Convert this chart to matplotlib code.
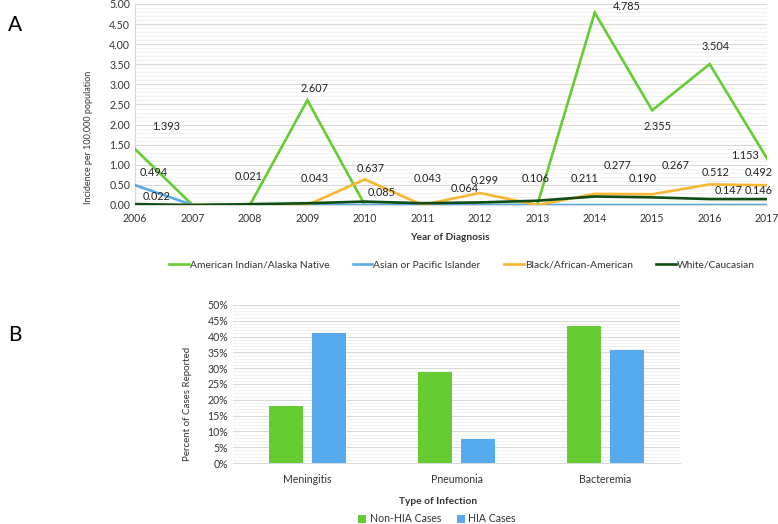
import matplotlib.pyplot as plt
from matplotlib.ticker import MultipleLocator, PercentFormatter

plt.rcParams["font.family"] = ["Lato", "DejaVu Sans"]

# Panel A data
years = list(range(2006, 2018))
ai_an = [1.393, 0, 0, 2.607, 0, 0, 0, 0, 4.785, 2.355, 3.504, 1.153]
asian_pi = [0.494, 0, 0, 0, 0, 0, 0, 0, 0, 0, 0, 0]
black = [0, 0, 0, 0, 0.637, 0, 0.299, 0, 0.277, 0.267, 0.512, 0.492]
white = [0.022, 0, 0.021, 0.043, 0.085, 0.043, 0.064, 0.106, 0.211, 0.190, 0.147, 0.146]

series_names = ["American Indian/Alaska Native", "Asian or Pacific Islander",
                "Black/African-American", "White/Caucasian"]
series_colors = ["#66cc33", "#5aaae6", "#f9b731", "#0f4d12"]

# where the data labels sit (moved by hand in the original)
label_pos = {
    0: {2006: (2006.54, 1.94), 2009: (2009.12, 2.91), 2014: (2014.56, 4.93),
        2015: (2015.1, 1.94), 2016: (2016.1, 3.93), 2017: (2016.62, 1.22)},
    1: {2006: (2006.33, 0.80)},
    2: {2010: (2010.1, 0.92), 2012: (2012.09, 0.62), 2014: (2014.39, 0.97),
        2015: (2015.4, 0.97), 2016: (2016.11, 0.80), 2017: (2016.85, 0.80)},
    3: {2006: (2006.38, 0.22), 2008: (2007.98, 0.70), 2009: (2009.12, 0.67),
        2010: (2010.3, 0.30), 2011: (2011.1, 0.67), 2012: (2011.74, 0.42),
        2013: (2012.98, 0.67), 2014: (2013.82, 0.67), 2015: (2014.83, 0.67),
        2016: (2016.33, 0.35), 2017: (2016.85, 0.35)},
}

# Panel B data
infections = ["Meningitis", "Pneumonia", "Bacteremia"]
non_hia = [18.0, 28.7, 43.4]
hia = [41.0, 7.7, 35.9]

txt = "#333333"
fig = plt.figure(figsize=(7.78, 5.24), dpi=100)

# ---- Panel A
ax = fig.add_axes([0.1735, 0.6088, 0.8125, 0.3836])
all_series = [ai_an, asian_pi, black, white]
for i, vals in enumerate(all_series):
    ax.plot(years, vals, color=series_colors[i], lw=1.9, label=series_names[i],
            solid_joinstyle="miter", zorder=3 + i)
    for yr, (tx, ty) in label_pos[i].items():
        v = vals[years.index(yr)]
        ax.text(tx, ty, f"{v:.3f}", fontsize=7.8, ha="center", va="center",
                color="#222222", clip_on=False, zorder=10)

ax.set_xlim(2006, 2017)
ax.set_ylim(0, 5)
ax.set_xticks(years)
ax.yaxis.set_major_locator(MultipleLocator(0.5))
ax.yaxis.set_minor_locator(MultipleLocator(0.1))
ax.yaxis.set_major_formatter(lambda v, p: f"{v:.2f}")
ax.grid(axis="y", which="major", color="#d9d9d9", lw=0.8)
ax.grid(axis="y", which="minor", color="#efefef", lw=0.6)
ax.set_axisbelow(True)
ax.tick_params(axis="both", which="both", length=0, labelsize=7.6, colors=txt)
ax.tick_params(axis="x", pad=6)
for s in ["top", "right"]:
    ax.spines[s].set_visible(False)
ax.spines["left"].set_color("#d9d9d9")
ax.spines["bottom"].set_color("#d9d9d9")
ax.set_ylabel("Incidence per 100,000 population", fontsize=6.5, color=txt)
ax.yaxis.set_label_coords(-0.066, 0.338)

fig.text(450 / 778, 1 - 237 / 524, "Year of Diagnosis", fontsize=7.3,
         fontweight="bold", ha="center", va="center", color=txt)
fig.text(8 / 778, 1 - 25 / 524, "A", fontsize=15, ha="left", va="center")
fig.legend(*ax.get_legend_handles_labels(), loc="center",
           bbox_to_anchor=(462 / 778, 1 - 265 / 524), ncol=4, frameon=False,
           fontsize=7.4, handlelength=1.9, handletextpad=0.1, columnspacing=2.3,
           labelcolor=txt)

# ---- Panel B
bx = fig.add_axes([0.2995, 0.1164, 0.5745, 0.3016])
pos = list(range(len(infections)))
w = 0.228
bx.bar([p - 0.145 for p in pos], non_hia, w, color="#66cc33", label="Non-HIA Cases", zorder=3)
bx.bar([p + 0.145 for p in pos], hia, w, color="#57aaee", label="HIA Cases", zorder=3)
bx.set_xlim(-0.5, 2.5)
bx.set_ylim(0, 50)
bx.set_xticks(pos)
bx.set_xticklabels(infections)
bx.yaxis.set_major_locator(MultipleLocator(5))
bx.yaxis.set_minor_locator(MultipleLocator(1))
bx.yaxis.set_major_formatter(PercentFormatter(decimals=0))
bx.grid(axis="y", which="major", color="#d9d9d9", lw=0.8)
bx.grid(axis="y", which="minor", color="#efefef", lw=0.6)
bx.set_axisbelow(True)
bx.tick_params(axis="both", which="both", length=0, labelsize=7.6, colors=txt)
bx.tick_params(axis="x", pad=8)
for s in ["top", "right", "left"]:
    bx.spines[s].set_visible(False)
bx.spines["bottom"].set_color("#d9d9d9")
bx.set_ylabel("Percent of Cases Reported", fontsize=7, color=txt)
bx.yaxis.set_label_coords(-0.092, 0.373)

fig.text(438 / 778, 1 - 501 / 524, "Type of Infection", fontsize=7.3,
         fontweight="bold", ha="center", va="center", color=txt)
fig.text(8 / 778, 1 - 335 / 524, "B", fontsize=15, ha="left", va="center")
fig.legend(*bx.get_legend_handles_labels(), loc="center",
           bbox_to_anchor=(437 / 778, 1 - 519 / 524), ncol=2, frameon=False,
           fontsize=7.6, handlelength=0.8, handleheight=0.8, handletextpad=0.3,
           columnspacing=1.5, labelcolor=txt)

fig.savefig("out.png", dpi=100)
